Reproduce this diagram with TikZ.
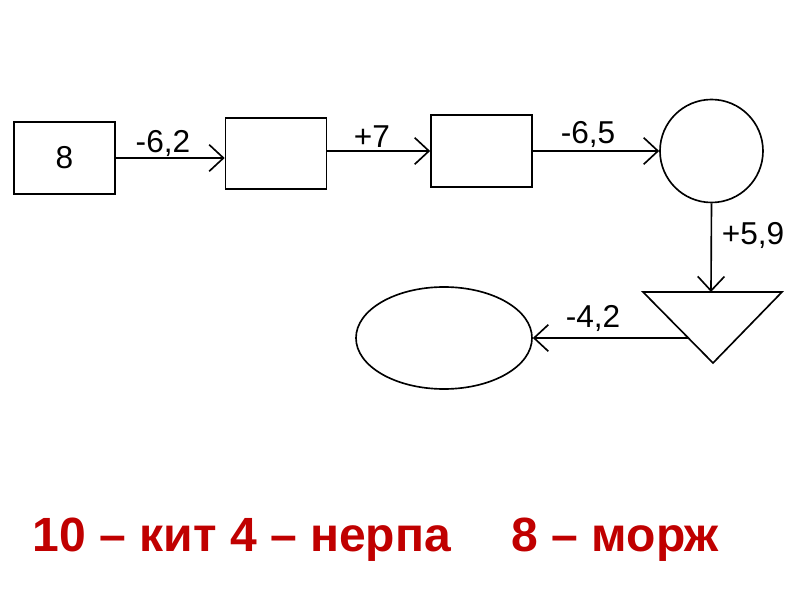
\documentclass[tikz,border=0pt]{standalone}
\usepackage{fontspec}
\setmainfont{Liberation Sans}
\usetikzlibrary{arrows.meta,shapes.geometric}
\definecolor{ansred}{RGB}{192,0,0}

\begin{document}
\begin{tikzpicture}[x=0.03cm,y=-0.03cm,line width=1.4pt,
  box/.style={draw,rectangle,minimum width=3.03cm,minimum height=2.16cm,inner sep=0pt},
  lab/.style={font=\fontsize{27}{32}\selectfont,inner sep=0pt},
  arr/.style={-{Straight Barb[length=4.3mm,width=8mm,line width=1.4pt]}}]
 \useasboundingbox (0,0) rectangle (800,600);
 % chain of boxes
 \node[box,lab] (b1) at (64.5,158) {8};
 \node[box,minimum height=2.13cm] (b2) at (276,153.5) {};
 \node[box] (b3) at (481.5,151) {};
 \node[draw,circle,minimum size=3.09cm,inner sep=0pt] (c1) at (711.5,151) {};
 \node[draw,ellipse,minimum width=5.28cm,minimum height=3.06cm,inner sep=0pt] (e1) at (444,338) {};
 % triangle
 \coordinate (tl) at (643,292);
 \coordinate (tr) at (782,292);
 \coordinate (tb) at (713,363);
 \coordinate (ttop) at (711,292);
 \coordinate (tleft) at (688,338);
 \draw (tl)--(tr)--(tb)--cycle;
 % connectors
 \draw[arr] (b1.east |- 0,158) -- (b2.west |- 0,158);
 \draw[arr] (b2.east |- 0,151) -- (b3.west |- 0,151);
 \draw[arr] (b3.east) -- (c1.west);
 \draw[arr] (c1.south) -- (ttop);
 \draw[arr] (tleft) -- (e1.east);
 \foreach \x/\y/\t/\nm in {163/143/{-6,2}/l1,372/137/{+7}/l2,588/134/{-6,5}/l3,753/235/{+5,9}/l4,593/318/{-4,2}/l5}{%
   \node[lab] (\nm) at (\x,\y) {\t};
 }
 % answer
 \node[font=\fontsize{41}{48}\selectfont\bfseries,text=ansred,anchor=base west,inner sep=0pt] (ans1) at (32,552) {10 – кит 4 – нерпа};
 \node[font=\fontsize{41}{48}\selectfont\bfseries,text=ansred,anchor=base west,inner sep=0pt] (ans2) at (511,552) {8 – морж};
\end{tikzpicture}
\end{document}
